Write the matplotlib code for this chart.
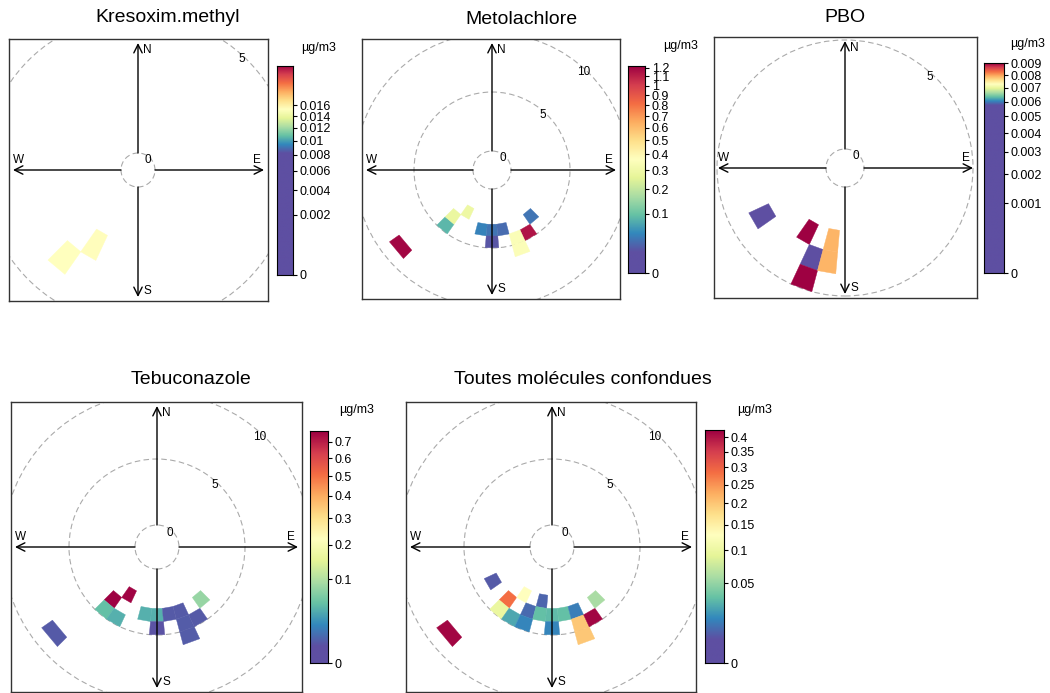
import numpy as np
import matplotlib.pyplot as plt
from matplotlib.patches import Circle, Polygon
from matplotlib import colormaps

plt.rcParams['font.family'] = ['Liberation Sans', 'DejaVu Sans']

W, H = 1050, 693

# wind direction bin (deg), wind speed bin (lower edge, m/s), concentration (µg/m3)
kreso_dir = [220, 210]
kreso_ws = [3, 2]
kreso_val = [0.0151, 0.0152]

meto_dir = [230, 220, 220, 210, 190, 180, 170, 180, 140, 150, 160, 160]
meto_ws = [8, 4, 3, 2, 3, 3, 3, 4, 3, 4, 4, 5]
meto_val = [1.2, 0.084, 0.28, 0.29, 0.04, 0.032, 0.026, 0.015, 0.032, 1.15, 0.345, 0.35]

pbo_dir = [240, 210, 200, 200, 190, 190]
pbo_ws = [3, 2, 3, 4, 2, 3]
pbo_val = [0.002, 0.009, 0.003, 0.009, 0.0079, 0.0079]

tebu_dir = [230, 220, 210, 220, 210, 190, 180, 180, 170, 160, 160, 150, 160, 140]
tebu_ws = [8, 3, 2, 4, 4, 3, 3, 4, 3, 3, 4, 4, 5, 3]
tebu_val = [0.006, 0.77, 0.76, 0.05, 0.04, 0.04, 0.04, 0.005, 0.006, 0.006, 0.007, 0.006, 0.007, 0.08]

tout_dir = [230, 240, 220, 210, 190, 220, 210, 200, 200, 190, 180, 170, 160, 180, 160, 160, 150, 140]
tout_ws = [8, 3, 3, 2, 2, 4, 4, 3, 4, 3, 3, 3, 3, 4, 4, 5, 4, 3]
tout_val = [0.42, 0.006, 0.286, 0.129, 0.008, 0.098, 0.024, 0.009, 0.015, 0.033, 0.031, 0.033,
            0.013, 0.015, 0.2, 0.2, 0.42, 0.058]

# colour key ticks
kreso_ticks = [0, 0.002, 0.004, 0.006, 0.008, 0.01, 0.012, 0.014, 0.016]
meto_ticks = [0, 0.1, 0.2, 0.3, 0.4, 0.5, 0.6, 0.7, 0.8, 0.9, 1, 1.1, 1.2]
pbo_ticks = [0, 0.001, 0.002, 0.003, 0.004, 0.005, 0.006, 0.007, 0.008, 0.009]
tebu_ticks = [0, 0.1, 0.2, 0.3, 0.4, 0.5, 0.6, 0.7]
tout_ticks = [0, 0.05, 0.1, 0.15, 0.2, 0.25, 0.3, 0.35, 0.4]

# layout in pixels: box, centre, px per m/s, inner radius, rings, key box, unit label, title
panels = [
    dict(title="Kresoxim.methyl", d=kreso_dir, ws=kreso_ws, v=kreso_val, ticks=kreso_ticks,
         vmax=0.0242, fmin=0.58, box=(9, 39, 268, 301), c=(138, 170), k=27.6, r0=17, rings=[0, 5],
         key=(277, 66, 293, 275), unit=(319, 48), tpos=(168, 17)),
    dict(title="Metolachlore", d=meto_dir, ws=meto_ws, v=meto_val, ticks=meto_ticks,
         vmax=1.22, fmin=0.1, box=(362, 39, 620, 299), c=(492, 170), k=11.8, r0=19, rings=[0, 5, 10],
         key=(628, 66, 645, 273), unit=(681, 46), tpos=(521, 20)),
    dict(title="PBO", d=pbo_dir, ws=pbo_ws, v=pbo_val, ticks=pbo_ticks,
         vmax=0.009, fmin=0.80, box=(714, 37, 977, 298), c=(845, 168), k=21.8, r0=19, rings=[0, 5],
         key=(984, 63, 1004, 273), unit=(1028, 44), tpos=(845, 18)),
    dict(title="Tebuconazole", d=tebu_dir, ws=tebu_ws, v=tebu_val, ticks=tebu_ticks,
         vmax=0.771, fmin=0.07, box=(11, 402, 302, 692), c=(157, 547), k=13.2, r0=22, rings=[0, 5, 10],
         key=(310, 431, 328, 663), unit=(357, 410), tpos=(191, 380)),
    dict(title="Toutes molécules confondues", d=tout_dir, ws=tout_ws, v=tout_val, ticks=tout_ticks,
         vmax=0.426, fmin=0.1, box=(406, 402, 696, 692), c=(552, 547), k=13.2, r0=22, rings=[0, 5, 10],
         key=(705, 430, 724, 663), unit=(755, 410), tpos=(583, 380)),
]

cmap = colormaps['Spectral_r']


def colour_pos(v, vmax, fmin):
    # key is on a square-root scale, colours spread over the upper part of it
    f = np.sqrt(np.asarray(v, dtype=float) / vmax)
    return np.clip((f - fmin) / (1 - fmin), 0, 1)


fig = plt.figure(figsize=(W / 100, H / 100), dpi=100)

for p in panels:
    x0, y0, x1, y1 = p['box']
    cx, cy = p['c']
    k = p['k']
    off = p['r0'] / k
    ax = fig.add_axes([x0 / W, 1 - y1 / H, (x1 - x0) / W, (y1 - y0) / H])
    ax.set_xlim((x0 - cx) / k, (x1 - cx) / k)
    ax.set_ylim((cy - y1) / k, (cy - y0) / k)
    ax.set_xticks([])
    ax.set_yticks([])
    for s in ax.spines.values():
        s.set_linewidth(1.0)
        s.set_color('#333333')

    # cells
    for d, w, v in zip(p['d'], p['ws'], p['v']):
        t = np.radians([d - 5, d + 5])
        ra, rb = off + w, off + w + 1
        pts = [(ra * np.sin(t[0]), ra * np.cos(t[0])), (rb * np.sin(t[0]), rb * np.cos(t[0])),
               (rb * np.sin(t[1]), rb * np.cos(t[1])), (ra * np.sin(t[1]), ra * np.cos(t[1]))]
        col = cmap(colour_pos(v, p['vmax'], p['fmin']))
        ax.add_patch(Polygon(pts, closed=True, facecolor=col, edgecolor=col, lw=0.3, zorder=2))

    # rings
    for r in p['rings']:
        ax.add_patch(Circle((0, 0), off + r, fill=False, ls=(0, (5, 3)), lw=0.8,
                            edgecolor='#aaaaaa', zorder=1))
        a = np.radians(43)
        rr = off + r - 3 / k
        ax.text(rr * np.sin(a), rr * np.cos(a), str(r), fontsize=8.5, ha='center', va='center', zorder=4)

    # compass arrows
    tips = {'N': (0, (cy - y0 - 4) / k), 'S': (0, -(y1 - cy - 4) / k),
            'W': (-(cx - x0 - 4) / k, 0), 'E': ((x1 - cx - 4) / k, 0)}
    offs = {'N': (7, -5), 'S': (7, 4), 'W': (4, 7), 'E': (-5, 7)}
    for lab, (tx, ty) in tips.items():
        sx, sy = np.sign(tx) * off, np.sign(ty) * off
        ax.annotate('', xy=(tx, ty), xytext=(sx, sy),
                    arrowprops=dict(arrowstyle='->,head_length=0.6,head_width=0.3', lw=1.0, color='black',
                                    shrinkA=0, shrinkB=0), zorder=3)
        ax.annotate(lab, xy=(tx, ty), xytext=offs[lab], textcoords='offset points',
                    ha='center', va='center', fontsize=8.5, zorder=4)

    # colour key
    kx0, ky0, kx1, ky1 = p['key']
    cax = fig.add_axes([kx0 / W, 1 - ky1 / H, (kx1 - kx0) / W, (ky1 - ky0) / H])
    fgrid = np.linspace(0, 1, 512)
    cpos = np.clip((fgrid - p['fmin']) / (1 - p['fmin']), 0, 1)
    cax.imshow(cmap(cpos)[:, None, :], origin='lower', extent=[0, 1, 0, 1], aspect='auto')
    cax.set_xticks([])
    cax.yaxis.tick_right()
    cax.set_yticks(np.sqrt(np.array(p['ticks']) / p['vmax']))
    cax.set_yticklabels(['%g' % t for t in p['ticks']], fontsize=9)
    cax.tick_params(axis='y', length=3, width=0.8, pad=2)
    cax.set_ylim(0, 1)
    for s in cax.spines.values():
        s.set_linewidth(0.8)
    fig.text(p['unit'][0] / W, 1 - p['unit'][1] / H, 'µg/m3', fontsize=9, ha='center', va='center')

    fig.text(p['tpos'][0] / W, 1 - p['tpos'][1] / H, p['title'], fontsize=14, ha='center', va='center')

fig.savefig('out.png', dpi=100)
